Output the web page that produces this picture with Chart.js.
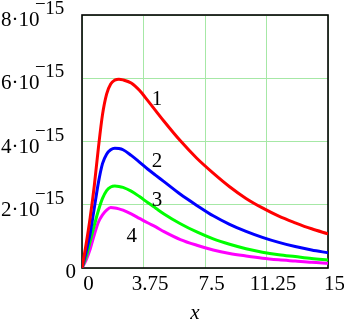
<!DOCTYPE html>
<html>
<head>
<meta charset="utf-8">
<script src="https://cdn.jsdelivr.net/npm/chart.js@4"></script>
<style>
  html, body { margin: 0; padding: 0; background: #fff; }
  #wrap { width: 344px; height: 321px; }
</style>
</head>
<body>
<div id="wrap"><canvas id="c" width="344" height="321"></canvas></div>
<script>
// ---- data (y values in units of 1e-15) ----
const UNIT = 1e-15;
const xVals   = [0, 0.25, 0.5, 0.75, 1, 1.25, 1.5, 1.75, 2, 2.25, 2.5, 3, 3.5, 4, 4.5, 5, 6, 7, 8, 9, 10, 11, 12, 13, 14, 15];
const curve1  = [0, 0.75, 1.6, 2.6, 3.8, 4.85, 5.5, 5.82, 5.94, 5.97, 5.95, 5.85, 5.62, 5.3, 4.97, 4.64, 4.02, 3.47, 3.0, 2.57, 2.2, 1.9, 1.64, 1.43, 1.24, 1.08];
const curve2  = [0, 0.5, 1.1, 1.9, 2.7, 3.3, 3.6, 3.74, 3.79, 3.78, 3.74, 3.56, 3.35, 3.13, 2.93, 2.73, 2.33, 1.98, 1.65, 1.38, 1.16, 0.97, 0.81, 0.68, 0.57, 0.48];
const curve3  = [0, 0.35, 0.85, 1.35, 1.82, 2.2, 2.45, 2.56, 2.59, 2.58, 2.55, 2.43, 2.26, 2.07, 1.89, 1.71, 1.4, 1.14, 0.92, 0.75, 0.61, 0.5, 0.42, 0.36, 0.3, 0.25];
const curve4  = [0, 0.25, 0.6, 1.05, 1.45, 1.68, 1.83, 1.91, 1.9, 1.87, 1.83, 1.71, 1.57, 1.43, 1.3, 1.15, 0.9, 0.72, 0.57, 0.46, 0.38, 0.31, 0.26, 0.22, 0.18, 0.15];
const curveNames = ["1", "2", "3", "4"];
const curveColors = ["#ff0000", "#0000ff", "#00ff00", "#ff00ff"];
// curve label anchor points (data units)
const labelX = [4.58, 4.58, 4.58, 3.03];
const labelY = [5.32, 3.36, 2.15, 0.99];
// ticks
const xTickVals   = [0, 3.75, 7.5, 11.25, 15];
const xTickLabels = ["0", "3.75", "7.5", "11.25", "15"];
const yTickVals   = [0, 2, 4, 6, 8];
const yTickMant   = ["0", "2", "4", "6", "8"];
const yTickExp    = "15";
const xTitle = "x";

const series = [curve1, curve2, curve3, curve4];
const SERIF = '"Liberation Serif", "Times New Roman", serif';

const textPlugin = {
  id: 'mathcadText',
  beforeDatasetsDraw(chart) {
    const {ctx, chartArea: a} = chart;
    ctx.save();
    ctx.strokeStyle = '#000';
    ctx.lineWidth = 1.6;
    ctx.strokeRect(a.left, a.top, a.right - a.left, a.bottom - a.top);
    ctx.restore();
  },
  afterDraw(chart) {
    const {ctx} = chart;
    const xs = chart.scales.x, ys = chart.scales.y;
    ctx.save();
    ctx.fillStyle = '#000';
    // y tick labels
    yTickVals.forEach((v, i) => {
      const py = ys.getPixelForValue(v * UNIT);
      if (v === 0) {
        ctx.font = '21px ' + SERIF;
        ctx.textAlign = 'right';
        ctx.textBaseline = 'alphabetic';
        ctx.fillText(yTickMant[i], 76, py + 10);
      } else {
        ctx.font = '21px ' + SERIF;
        ctx.textAlign = 'left';
        ctx.textBaseline = 'alphabetic';
        const main = yTickMant[i] + '\u00B710';
        ctx.fillText(main, 1, py + 11);
        const w = ctx.measureText(main).width;
        ctx.font = '19px ' + SERIF;
        const sx = 1 + w - 4.5;
        ctx.fillText('\u2212', sx, py - 5);
        const mw = ctx.measureText('\u2212').width;
        ctx.fillText(yTickExp, sx + mw - 0.5, py - 1);
      }
    });
    // x tick labels
    ctx.font = '21px ' + SERIF;
    ctx.textAlign = 'center';
    ctx.textBaseline = 'alphabetic';
    xTickVals.forEach((v, i) => {
      const px = xs.getPixelForValue(v);
      ctx.fillText(xTickLabels[i], px + 6.5, 290);
    });
    // x title
    ctx.font = 'italic 21px ' + SERIF;
    ctx.fillText(xTitle, 195, 319);
    // curve labels
    ctx.font = '21px ' + SERIF;
    ctx.textBaseline = 'middle';
    curveNames.forEach((n, i) => {
      ctx.fillText(n, xs.getPixelForValue(labelX[i]), ys.getPixelForValue(labelY[i] * UNIT));
    });
    ctx.restore();
  }
};

function build() {
  new Chart(document.getElementById('c'), {
    type: 'line',
    data: {
      datasets: series.map((s, i) => ({
        label: curveNames[i],
        data: xVals.map((x, j) => ({x: x, y: s[j] * UNIT})),
        borderColor: curveColors[i],
        borderWidth: 3,
        pointRadius: 0,
        fill: false,
        cubicInterpolationMode: 'monotone'
      }))
    },
    options: {
      responsive: false,
      animation: false,
      devicePixelRatio: 1,
      layout: { padding: { left: 82, right: 16, top: 15, bottom: 53 } },
      plugins: { legend: { display: false }, tooltip: { enabled: false } },
      scales: {
        x: {
          type: 'linear', min: 0, max: 15,
          afterBuildTicks: (scale) => { scale.ticks = xTickVals.map(v => ({value: v})); },
          ticks: { display: false },
          grid: { color: '#a6e8a6', lineWidth: 1, drawTicks: false },
          border: { display: false }
        },
        y: {
          type: 'linear', min: 0, max: 8 * UNIT,
          afterBuildTicks: (scale) => { scale.ticks = yTickVals.map(v => ({value: v * UNIT})); },
          ticks: { display: false },
          grid: { color: '#a6e8a6', lineWidth: 1, drawTicks: false },
          border: { display: false }
        }
      }
    },
    plugins: [textPlugin]
  });
}
if (document.fonts && document.fonts.load) {
  Promise.all([
    document.fonts.load('21px "Liberation Serif"'),
    document.fonts.load('italic 21px "Liberation Serif"')
  ]).then(build, build);
} else {
  build();
}
</script>
</body>
</html>
